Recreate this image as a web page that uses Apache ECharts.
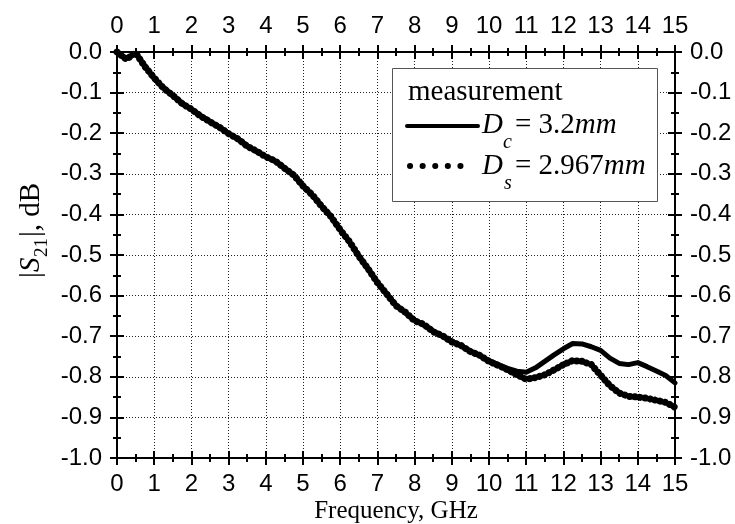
<!DOCTYPE html>
<html>
<head>
<meta charset="utf-8">
<script src="https://cdn.jsdelivr.net/npm/echarts@6/dist/echarts.min.js"></script>
<style>
  html, body { margin: 0; padding: 0; background: #fff; }
  #chart { width: 735px; height: 524px; }
</style>
</head>
<body>
<div id="chart"></div>
<script>
// frequency, GHz
var freq = [0, 0.25, 0.5, 0.75, 1, 1.25, 1.5, 1.75, 2, 2.25, 2.5, 2.75, 3, 3.25, 3.5, 3.75,
  4, 4.25, 4.5, 4.75, 5, 5.25, 5.5, 5.75, 6, 6.25, 6.5, 6.75, 7, 7.25, 7.5, 7.75,
  8, 8.25, 8.5, 8.75, 9, 9.25, 9.5, 9.75, 10, 10.25, 10.5, 10.75, 11, 11.25, 11.5, 11.75,
  12, 12.25, 12.5, 12.75, 13, 13.25, 13.5, 13.75, 14, 14.25, 14.5, 14.75, 15];

// |S21| dB, Dc = 3.2mm (solid)
var solidVals = [0.000, -0.016, -0.003, -0.034, -0.066, -0.088, -0.108, -0.126, -0.142, -0.157, -0.171, -0.186, -0.200, -0.215, -0.231, -0.245,
  -0.257, -0.269, -0.285, -0.304, -0.329, -0.353, -0.379, -0.406, -0.437, -0.468, -0.502, -0.535, -0.567, -0.597, -0.623, -0.643,
  -0.660, -0.673, -0.687, -0.700, -0.712, -0.724, -0.736, -0.748, -0.760, -0.770, -0.779, -0.786, -0.789, -0.778, -0.762, -0.746,
  -0.731, -0.718, -0.719, -0.726, -0.735, -0.754, -0.767, -0.770, -0.765, -0.775, -0.786, -0.797, -0.815];

// |S21| dB, Ds = 2.967mm (dotted)
var dottedVals = [0.000, -0.018, -0.002, -0.036, -0.064, -0.089, -0.107, -0.127, -0.141, -0.158, -0.172, -0.185, -0.201, -0.214, -0.232, -0.244,
  -0.258, -0.268, -0.286, -0.303, -0.330, -0.352, -0.380, -0.405, -0.438, -0.467, -0.503, -0.534, -0.568, -0.596, -0.625, -0.641,
  -0.662, -0.671, -0.689, -0.699, -0.714, -0.723, -0.738, -0.747, -0.762, -0.772, -0.783, -0.795, -0.806, -0.802, -0.795, -0.783,
  -0.770, -0.760, -0.762, -0.770, -0.796, -0.822, -0.840, -0.848, -0.850, -0.853, -0.858, -0.863, -0.875];

var xTicks = { min: 0, max: 15, interval: 1 };
var yTicks = { min: -1, max: 0, interval: 0.1 };

function pairs(xs, ys) {
  var out = [];
  for (var i = 0; i < xs.length; i++) out.push([xs[i], ys[i]]);
  return out;
}

var tickFont = { fontFamily: 'Liberation Sans', fontSize: 24, color: '#000' };
var serif = '"Liberation Serif"';

// one axis per side carries labels + outer ticks, a twin carries the inner ticks
function makeAxis(position, inside, showLabel, isX) {
  var t = isX ? xTicks : yTicks;
  return {
    type: 'value',
    position: position,
    min: t.min,
    max: t.max,
    interval: t.interval,
    axisLine: { show: true, onZero: false, lineStyle: { color: '#000', width: 2 } },
    axisTick: { show: true, inside: inside, length: 7, lineStyle: { color: '#000', width: 2 } },
    minorTick: { show: true, splitNumber: 2, length: 4, lineStyle: { color: '#000', width: 2 } },
    axisLabel: Object.assign({
      show: showLabel,
      margin: isX ? 14 : 15,
      formatter: isX ? function (v) { return String(v); } : function (v) { return v.toFixed(1); }
    }, tickFont),
    splitLine: { show: showLabel && (position === 'bottom' || position === 'left'), lineStyle: { color: '#222', type: [1, 2], width: 1 } },
    minorSplitLine: { show: false }
  };
}

var chart = echarts.init(document.getElementById('chart'), null, { renderer: 'canvas' });

var option = {
  backgroundColor: '#fff',
  animation: false,
  grid: { left: 117, right: 60, top: 52, bottom: 66, containLabel: false, outerBoundsMode: 'none' },
  xAxis: [
    makeAxis('bottom', false, true, true),
    makeAxis('bottom', true, false, true),
    makeAxis('top', false, true, true),
    makeAxis('top', true, false, true)
  ],
  yAxis: [
    makeAxis('left', false, true, false),
    makeAxis('left', true, false, false),
    makeAxis('right', false, true, false),
    makeAxis('right', true, false, false)
  ],
  series: [
    {
      name: 'Dc = 3.2mm',
      type: 'line',
      xAxisIndex: 0,
      yAxisIndex: 0,
      showSymbol: false,
      data: pairs(freq, solidVals),
      lineStyle: { color: '#000', width: 5, join: 'round', cap: 'round' },
      z: 3
    },
    {
      name: 'Ds = 2.967mm',
      type: 'line',
      xAxisIndex: 0,
      yAxisIndex: 0,
      showSymbol: false,
      data: pairs(freq, dottedVals),
      lineStyle: { color: '#000', width: 7, type: [0.1, 5], cap: 'round' },
      z: 3
    }
  ],
  graphic: [
    // legend box
    { type: 'rect', shape: { x: 392.5, y: 68.5, width: 265, height: 133 }, style: { fill: '#fff', stroke: '#555', lineWidth: 1 }, z: 10 },
    { type: 'text', z: 11, style: { text: 'measurement', x: 408, y: 92, font: '29px ' + serif, fill: '#000', verticalAlign: 'middle' } },
    { type: 'line', z: 11, shape: { x1: 407, y1: 126, x2: 478, y2: 126 }, style: { stroke: '#000', lineWidth: 4, lineCap: 'round' } },
    { type: 'text', z: 11, style: { text: 'D', x: 482, y: 125, font: 'italic 29px ' + serif, fill: '#000', verticalAlign: 'middle' } },
    { type: 'text', z: 11, style: { text: 'c', x: 503, y: 143, font: 'italic 20px ' + serif, fill: '#000', verticalAlign: 'middle' } },
    { type: 'text', z: 11, style: { text: '{n|= 3.2}{i|mm}', x: 515, y: 125, verticalAlign: 'middle', rich: {
      n: { fontFamily: 'Liberation Serif', fontSize: 29, color: '#000' },
      i: { fontFamily: 'Liberation Serif', fontSize: 29, fontStyle: 'italic', color: '#000' } } } },
    { type: 'line', z: 11, shape: { x1: 410, y1: 166, x2: 473, y2: 166 }, style: { stroke: '#000', lineWidth: 6, lineCap: 'round', lineDash: [0.1, 12.5] } },
    { type: 'text', z: 11, style: { text: 'D', x: 482, y: 166, font: 'italic 29px ' + serif, fill: '#000', verticalAlign: 'middle' } },
    { type: 'text', z: 11, style: { text: 's', x: 504, y: 184, font: 'italic 20px ' + serif, fill: '#000', verticalAlign: 'middle' } },
    { type: 'text', z: 11, style: { text: '{n|= 2.967}{i|mm}', x: 515, y: 166, verticalAlign: 'middle', rich: {
      n: { fontFamily: 'Liberation Serif', fontSize: 29, color: '#000' },
      i: { fontFamily: 'Liberation Serif', fontSize: 29, fontStyle: 'italic', color: '#000' } } } },
    // axis names
    { type: 'text', style: { text: 'Frequency, GHz', x: 396, y: 511, font: '25px ' + serif, fill: '#000', align: 'center', verticalAlign: 'middle' } },
    {
      type: 'group',
      x: 31,
      y: 278,
      rotation: Math.PI / 2,
      children: [
        { type: 'text', style: { text: '|', x: 0, y: 0, font: '29px ' + serif, fill: '#000', verticalAlign: 'middle' } },
        { type: 'text', style: { text: 'S', x: 6, y: 0, font: 'italic 29px ' + serif, fill: '#000', verticalAlign: 'middle' } },
        { type: 'text', style: { text: '21', x: 21, y: 11, font: '19px ' + serif, fill: '#000', verticalAlign: 'middle' } },
        { type: 'text', style: { text: '|, dB', x: 41, y: 0, font: '29px ' + serif, fill: '#000', verticalAlign: 'middle' } }
      ]
    }
  ]
};

chart.setOption(option);
</script>
</body>
</html>
